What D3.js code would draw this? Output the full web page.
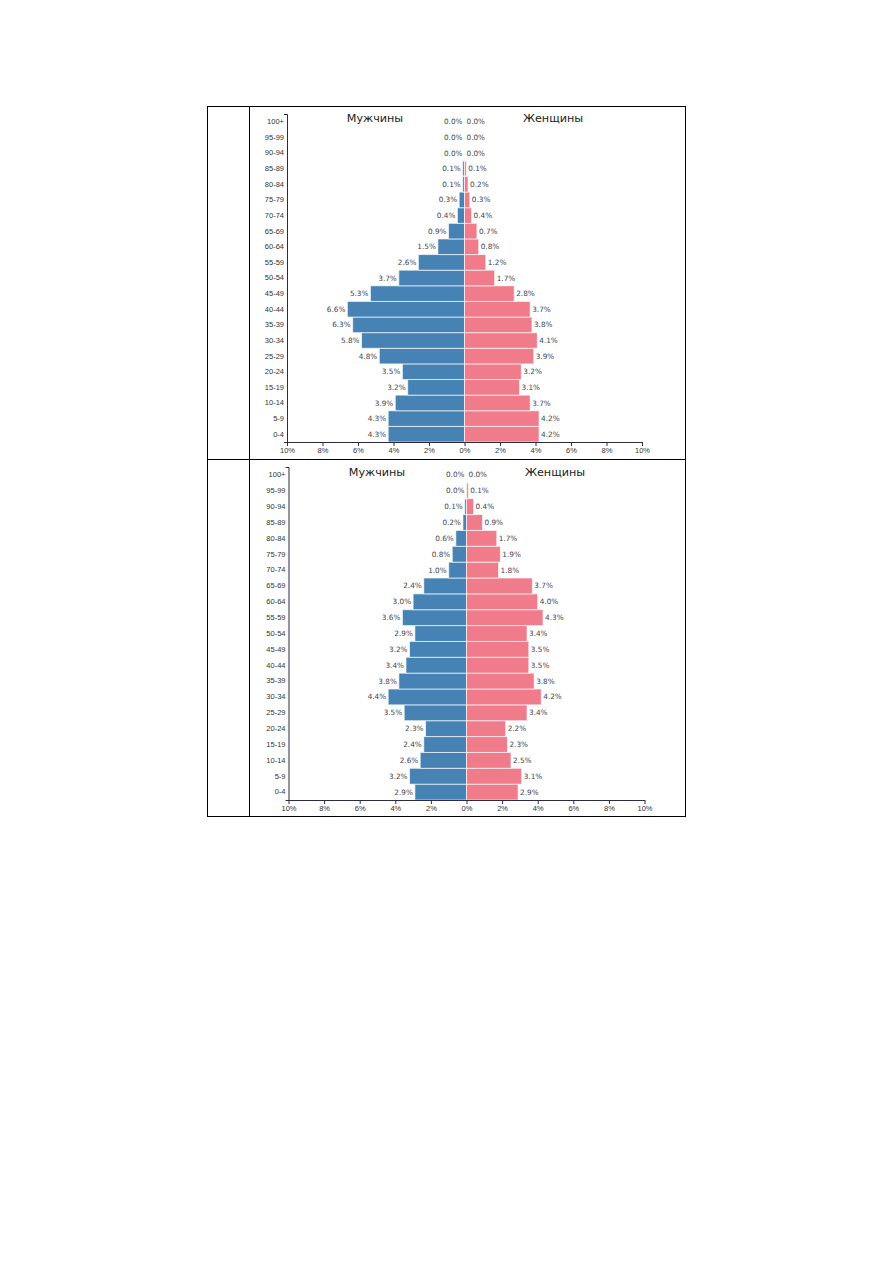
<!DOCTYPE html>
<html>
<head>
<meta charset="utf-8">
<script src="https://cdn.jsdelivr.net/npm/d3@7"></script>
<style>
  body { margin: 0; background: #fff; }
  svg { display: block; font-family: 'DejaVu Sans', sans-serif; }
</style>
</head>
<body>
<svg id="page" width="893" height="1263"></svg>
<script>
// Two population pyramids in a bordered table, percent of total population.

const AGE_GROUPS = ['0-4', '5-9', '10-14', '15-19', '20-24', '25-29', '30-34', '35-39', '40-44',
  '45-49', '50-54', '55-59', '60-64', '65-69', '70-74', '75-79', '80-84', '85-89', '90-94', '95-99', '100+'];

const MALE_1 = [4.3, 4.3, 3.9, 3.2, 3.5, 4.8, 5.8, 6.3, 6.6, 5.3, 3.7, 2.6, 1.5, 0.9, 0.4, 0.3, 0.1, 0.1, 0.0, 0.0, 0.0];
const FEMALE_1 = [4.2, 4.2, 3.7, 3.1, 3.2, 3.9, 4.1, 3.8, 3.7, 2.8, 1.7, 1.2, 0.8, 0.7, 0.4, 0.3, 0.2, 0.1, 0.0, 0.0, 0.0];

const MALE_2 = [2.9, 3.2, 2.6, 2.4, 2.3, 3.5, 4.4, 3.8, 3.4, 3.2, 2.9, 3.6, 3.0, 2.4, 1.0, 0.8, 0.6, 0.2, 0.1, 0.0, 0.0];
const FEMALE_2 = [2.9, 3.1, 2.5, 2.3, 2.2, 3.4, 4.2, 3.8, 3.5, 3.5, 3.4, 4.3, 4.0, 3.7, 1.8, 1.9, 1.7, 0.9, 0.4, 0.1, 0.0];

const X_TICKS = [-10, -8, -6, -4, -2, 0, 2, 4, 6, 8, 10];
const TITLES = ['Мужчины', 'Женщины'];

const MALE_COLOUR = '#4682b4';
const FEMALE_COLOUR = '#f07b8a';
const AXIS_COLOUR = '#2b2b45';
const LABEL_COLOUR = '#444450';

const svg = d3.select('#page');

// table frame
const frame = svg.append('g').attr('fill', 'none').attr('stroke', '#000').attr('stroke-width', 1);
frame.append('rect').attr('x', 207.5).attr('y', 106.5).attr('width', 478).attr('height', 710);
frame.append('line').attr('x1', 249.5).attr('x2', 249.5).attr('y1', 106.5).attr('y2', 816.5);
frame.append('line').attr('x1', 207.5).attr('x2', 685.5).attr('y1', 459.5).attr('y2', 459.5);

function drawPyramid({ male, female, left, right, top, bottom, titleY, titleX }) {
  const g = svg.append('g');

  const x = d3.scaleLinear().domain([-10, 10]).range([left, right]);
  const y = d3.scaleBand().domain(AGE_GROUPS.slice().reverse()).range([top, bottom]).padding(0);

  const rows = AGE_GROUPS.map((age, i) => ({ age, m: male[i], f: female[i] }));

  g.selectAll('rect.male')
    .data(rows)
    .join('rect')
    .attr('class', 'male')
    .attr('x', (d) => x(-d.m))
    .attr('y', (d) => y(d.age))
    .attr('width', (d) => x(0) - x(-d.m))
    .attr('height', y.bandwidth())
    .attr('fill', MALE_COLOUR)
    .attr('stroke', 'rgba(255,255,255,0.65)')
    .attr('stroke-width', 1);

  g.selectAll('rect.female')
    .data(rows)
    .join('rect')
    .attr('class', 'female')
    .attr('x', x(0))
    .attr('y', (d) => y(d.age))
    .attr('width', (d) => x(d.f) - x(0))
    .attr('height', y.bandwidth())
    .attr('fill', FEMALE_COLOUR)
    .attr('stroke', 'rgba(255,255,255,0.65)')
    .attr('stroke-width', 1);

  g.selectAll('text.male-label')
    .data(rows)
    .join('text')
    .attr('class', 'male-label')
    .attr('x', (d) => x(-d.m) - 2)
    .attr('y', (d) => y(d.age) + y.bandwidth() / 2)
    .attr('dy', '0.35em')
    .attr('text-anchor', 'end')
    .attr('font-size', 7.3)
    .attr('fill', LABEL_COLOUR)
    .text((d) => `${d.m.toFixed(1)}%`);

  g.selectAll('text.female-label')
    .data(rows)
    .join('text')
    .attr('class', 'female-label')
    .attr('x', (d) => x(d.f) + 2)
    .attr('y', (d) => y(d.age) + y.bandwidth() / 2)
    .attr('dy', '0.35em')
    .attr('font-size', 7.3)
    .attr('fill', LABEL_COLOUR)
    .text((d) => `${d.f.toFixed(1)}%`);

  const yAxis = g
    .append('g')
    .attr('transform', `translate(${left},0)`)
    .call(d3.axisLeft(y).tickSize(0).tickSizeOuter(3).tickPadding(3));
  yAxis.selectAll('path, line').attr('stroke', AXIS_COLOUR);
  yAxis.selectAll('text').attr('font-size', 7.5).attr('fill', '#333').attr('font-family', null);

  const xAxis = g
    .append('g')
    .attr('transform', `translate(0,${bottom})`)
    .call(
      d3
        .axisBottom(x)
        .tickValues(X_TICKS)
        .tickSize(4)
        .tickSizeOuter(0)
        .tickPadding(2)
        .tickFormat((d) => `${Math.abs(d)}%`)
    );
  xAxis.selectAll('path, line').attr('stroke', AXIS_COLOUR);
  xAxis.selectAll('text').attr('font-size', 7.5).attr('fill', '#333').attr('font-family', null);

  g.selectAll('text.title')
    .data(TITLES)
    .join('text')
    .attr('class', 'title')
    .attr('x', (d, i) => titleX[i])
    .attr('y', titleY)
    .attr('text-anchor', 'middle')
    .attr('font-size', 11.2)
    .attr('fill', '#222')
    .text((d) => d);
}

drawPyramid({
  male: MALE_1, female: FEMALE_1,
  left: 287, right: 642, top: 114, bottom: 442,
  titleY: 122, titleX: [375, 553]
});

drawPyramid({
  male: MALE_2, female: FEMALE_2,
  left: 288.5, right: 644.5, top: 467, bottom: 800,
  titleY: 476, titleX: [377, 555]
});
</script>
</body>
</html>
